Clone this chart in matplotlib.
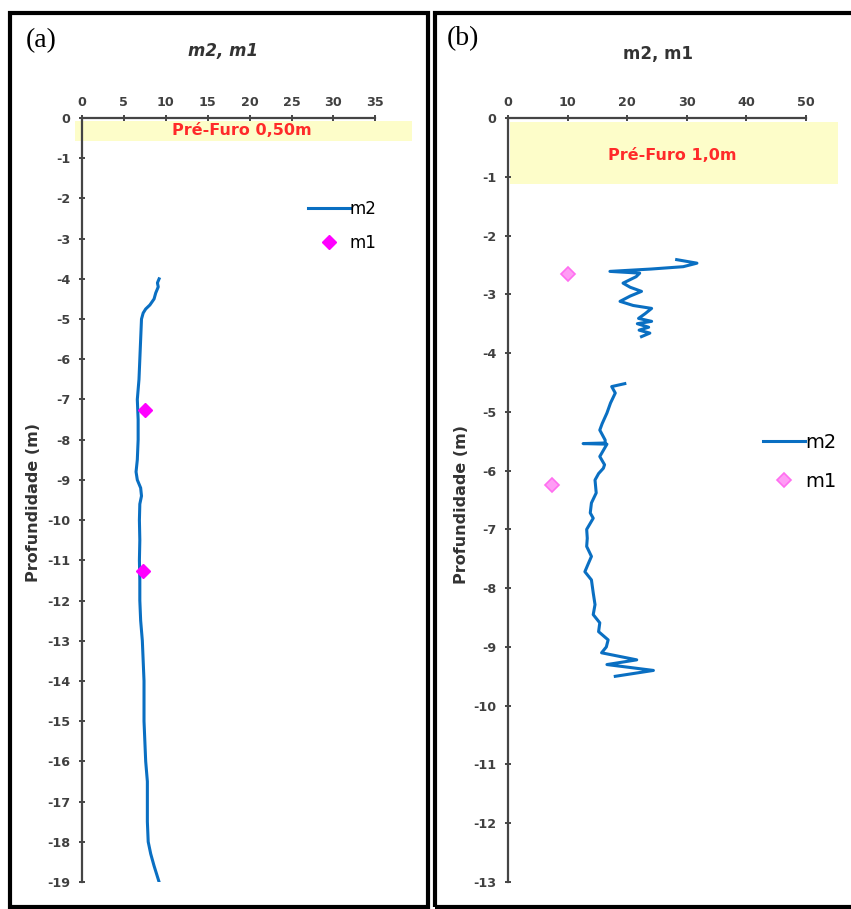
import numpy as np
import matplotlib
matplotlib.use('Agg')
import matplotlib.pyplot as plt
from matplotlib.patches import Rectangle

plt.rcParams['font.family'] = ['DejaVu Sans']
plt.rcParams['axes.unicode_minus'] = False

# (a) pre-furo 0,50m
a_m2_x = [9.2, 9.0, 9.1, 8.8, 8.6, 8.1, 7.6, 7.3, 7.1, 7.0, 6.9, 6.8, 6.6, 6.7, 6.7,
          6.6, 6.45, 6.6, 7.0, 7.1, 6.9, 6.85, 6.9, 6.85, 6.9, 6.9, 7.0, 7.2, 7.3, 7.4,
          7.4, 7.4, 7.5, 7.6, 7.8, 7.8, 7.8, 7.9, 8.2, 8.6, 8.9, 9.2]
a_m2_z = [-4.0, -4.1, -4.2, -4.35, -4.5, -4.65, -4.75, -4.85, -5.0, -5.5, -6.0, -6.5,
          -7.0, -7.5, -8.0, -8.5, -8.8, -9.0, -9.2, -9.4, -9.6, -10.0, -10.5, -11.0,
          -11.5, -12.0, -12.5, -13.0, -13.5, -14.0, -14.5, -15.0, -15.5, -16.0, -16.5,
          -17.0, -17.5, -18.0, -18.3, -18.6, -18.8, -19.0]
a_m1_x = [7.5, 7.3]
a_m1_z = [-7.27, -11.27]

# (b) pre-furo 1,0m
b_m2_x = [28.3, 31.7, 29.4, 24.0, 17.1, 22.1, 21.5, 19.3, 20.5, 22.4, 20.5, 18.8, 21.0,
          24.1, 23.0, 21.9, 24.1, 21.7, 23.6, 22.0, 23.8, 22.4,
          np.nan,
          19.6, 17.4, 18.0, 17.2, 16.6, 15.8, 15.4, 16.3, 16.3, 12.6, 16.6, 15.4, 16.2,
          16.0, 15.2, 14.6, 14.8, 14.0, 13.8, 14.3, 13.2, 13.3, 13.2, 14.0, 13.4, 12.9,
          14.0, 14.3, 14.6, 14.3, 15.4, 15.2, 16.8, 16.5, 15.7, 21.6, 16.6, 24.4, 18.0]
b_m2_z = [-2.41, -2.47, -2.53, -2.57, -2.61, -2.64, -2.70, -2.81, -2.88, -2.95, -3.03,
          -3.12, -3.19, -3.24, -3.33, -3.41, -3.46, -3.50, -3.56, -3.61, -3.66, -3.72,
          np.nan,
          -4.52, -4.57, -4.68, -4.85, -5.02, -5.20, -5.31, -5.48, -5.53, -5.54, -5.55,
          -5.76, -5.90, -5.96, -6.05, -6.16, -6.38, -6.55, -6.72, -6.81, -7.00, -7.15,
          -7.29, -7.46, -7.60, -7.72, -7.86, -8.08, -8.28, -8.45, -8.59, -8.74, -8.88,
          -9.00, -9.10, -9.22, -9.30, -9.40, -9.50]
b_m1_x = [10.1, 7.3]
b_m1_z = [-2.66, -6.25]

W, H = 851, 909
fig = plt.figure(figsize=(W / 100, H / 100), dpi=100)

line_c = '#0a6fc2'
tick_c = '#404040'
band_c = '#fdfdc9'


def fx(px):
    return px / W


def fy(py):
    return 1 - py / H


def setup(ax, xmax_tick, xstep, ymin):
    ax.set_facecolor('none')
    ax.xaxis.tick_top()
    ax.set_xticks(range(0, xmax_tick + 1, xstep))
    ax.set_yticks(range(ymin, 1))
    for s in ['right', 'bottom']:
        ax.spines[s].set_visible(False)
    ax.spines['top'].set_bounds(0, xmax_tick)
    ax.spines['left'].set_bounds(ymin, 0)
    for s in ['top', 'left']:
        ax.spines[s].set_color('#454545')
        ax.spines[s].set_linewidth(1.6)
    ax.tick_params(direction='inout', length=5, width=1.4, color='#454545',
                   labelsize=9.2, labelcolor=tick_c)
    ax.tick_params(axis='x', pad=4)
    ax.tick_params(axis='y', pad=6)
    for lab in ax.get_xticklabels() + ax.get_yticklabels():
        lab.set_fontweight('bold')


# left panel
ax1 = fig.add_axes([fx(82), fy(882), fx(330), 764 / H])
ax1.set_xlim(0, 330 / 8.38)
ax1.set_ylim(-19, 0)
setup(ax1, 35, 5, -19)
ax1.add_patch(Rectangle((-0.84, -0.57), 40.2, 0.5, facecolor=band_c, edgecolor='none',
                        zorder=0.5, clip_on=False))
ax1.text(19.1, -0.32, 'Pré-Furo 0,50m', color='#ff2a2a', fontsize=11.5,
         fontweight='bold', ha='center', va='center')
ax1.plot(a_m2_x, a_m2_z, color=line_c, lw=2.2, label='m2', solid_joinstyle='round')
ax1.plot(a_m1_x, a_m1_z, 'D', color='#ff00ff', ms=6.8, mec='#ff00ff', label='m1')
ax1.legend(loc='center left', bbox_to_anchor=(fx(308), fy(226)),
           bbox_transform=fig.transFigure, frameon=False, fontsize=12,
           handlelength=2.5, handletextpad=0.0, labelspacing=0.95,
           borderpad=0, borderaxespad=0)

# right panel
ax2 = fig.add_axes([fx(508), fy(882), fx(330), 764 / H])
ax2.set_xlim(0, 330 / 5.96)
ax2.set_ylim(-13, 0)
setup(ax2, 50, 10, -13)
ax2.add_patch(Rectangle((0.3, -1.12), 55.1, 1.05, facecolor=band_c, edgecolor='none',
                        zorder=0.5, clip_on=False))
ax2.text(27.5, -0.63, 'Pré-Furo 1,0m', color='#ff2a2a', fontsize=11.5,
         fontweight='bold', ha='center', va='center')
ax2.plot(b_m2_x, b_m2_z, color=line_c, lw=2.2, label='m2', solid_joinstyle='round')
ax2.plot(b_m1_x, b_m1_z, 'D', color='#ff9cf5', ms=7, mec='#ff6ef0', mew=1.2, label='m1')
ax2.legend(loc='center left', bbox_to_anchor=(fx(763), fy(462)),
           bbox_transform=fig.transFigure, frameon=False, fontsize=14,
           handlelength=2.15, handletextpad=0.0, labelspacing=1.0,
           borderpad=0, borderaxespad=0)

# titles, labels
fig.text(fx(223), fy(51), 'm2, m1', fontsize=12, fontweight='bold', fontstyle='italic',
         color='#333333', ha='center', va='center')
fig.text(fx(658), fy(54), 'm2, m1', fontsize=12, fontweight='bold',
         color='#333333', ha='center', va='center')
fig.text(fx(33.5), fy(503), 'Profundidade (m)', fontsize=11.5, fontweight='bold',
         color='#333333', rotation=90, ha='center', va='center')
fig.text(fx(461), fy(505), 'Profundidade (m)', fontsize=11.5, fontweight='bold',
         color='#333333', rotation=90, ha='center', va='center')
fig.text(fx(41), fy(41), '(a)', fontsize=20, family='Liberation Serif',
         ha='center', va='center')
fig.text(fx(463), fy(39), '(b)', fontsize=20, family='Liberation Serif',
         ha='center', va='center')

# panel frames
fig.patches.append(Rectangle((fx(10), fy(907)), fx(418), (907 - 13) / H, fill=False,
                             lw=3, ec='black', transform=fig.transFigure))
fig.patches.append(Rectangle((fx(435), fy(907)), fx(430), (907 - 13) / H, fill=False,
                             lw=3, ec='black', transform=fig.transFigure))

fig.savefig('out.png', dpi=100)
